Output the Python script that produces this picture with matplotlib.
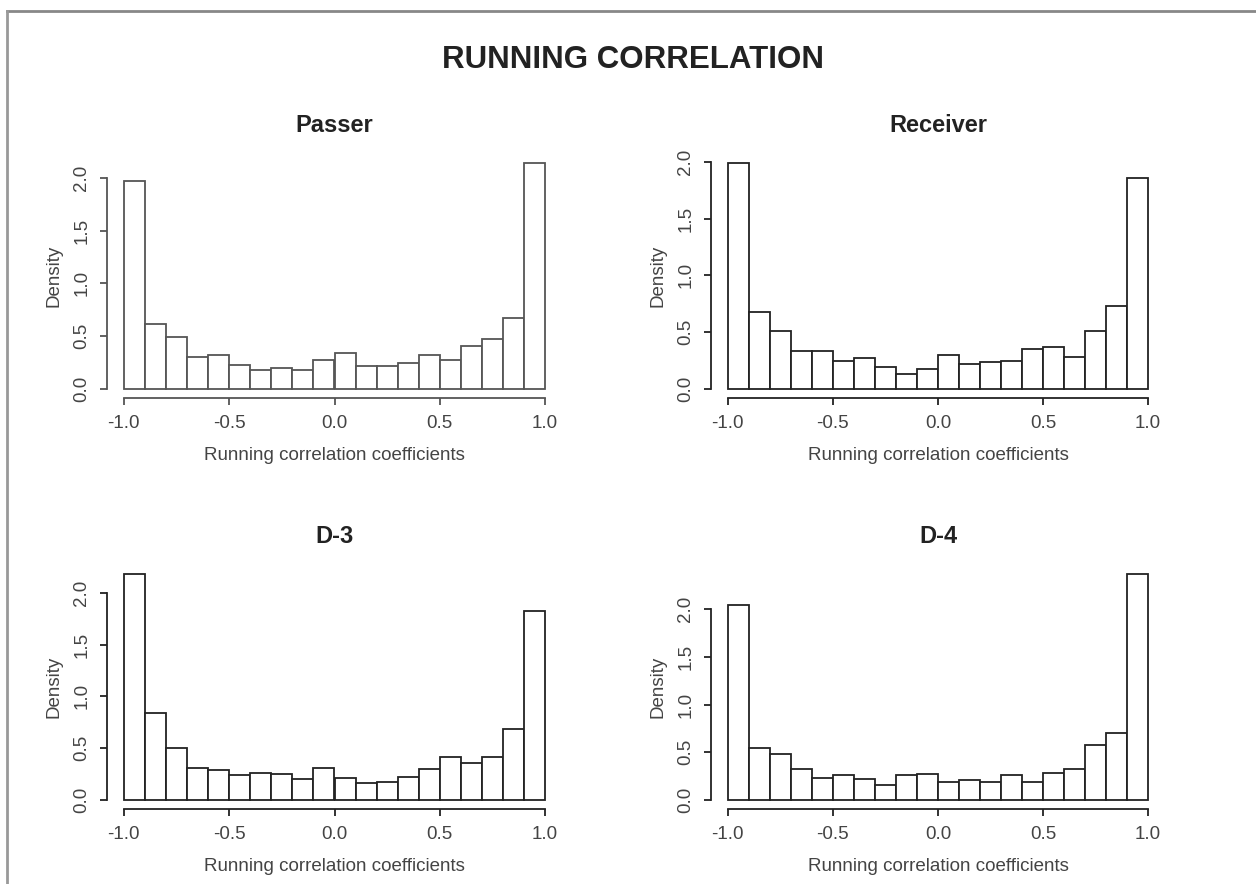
import numpy as np
import matplotlib
matplotlib.use("Agg")
import matplotlib.pyplot as plt
from matplotlib.lines import Line2D

plt.rcParams['font.family'] = ['Liberation Sans', 'DejaVu Sans']

# bin edges of the histograms (20 bins of width 0.1)
edges = np.round(np.arange(-1.0, 1.0001, 0.1), 2)

passer = [1.97, 0.62, 0.49, 0.30, 0.32, 0.23, 0.18, 0.20, 0.18, 0.27,
          0.34, 0.22, 0.22, 0.25, 0.32, 0.27, 0.41, 0.47, 0.67, 2.14]
receiver = [1.99, 0.68, 0.51, 0.33, 0.33, 0.25, 0.27, 0.19, 0.13, 0.18,
            0.30, 0.22, 0.24, 0.25, 0.35, 0.37, 0.28, 0.51, 0.73, 1.86]
d3 = [2.18, 0.84, 0.50, 0.31, 0.29, 0.24, 0.26, 0.25, 0.20, 0.31,
      0.21, 0.16, 0.17, 0.22, 0.30, 0.41, 0.36, 0.41, 0.68, 1.82]
d4 = [2.04, 0.54, 0.48, 0.32, 0.23, 0.26, 0.22, 0.16, 0.26, 0.27,
      0.19, 0.21, 0.19, 0.26, 0.19, 0.28, 0.32, 0.58, 0.70, 2.37]

titles = ["Passer", "Receiver", "D-3", "D-4"]
series = [passer, receiver, d3, d4]
edge_cols = ["#555555", "#222222", "#222222", "#222222"]

x_ticks = [-1.0, -0.5, 0.0, 0.5, 1.0]
y_ticks = [0.0, 0.5, 1.0, 1.5, 2.0]

W, H = 1256, 884
fig = plt.figure(figsize=(W / 100, H / 100), dpi=100)

# frame lines around the figure (top and left only visible)
fig.add_artist(Line2D([6.5 / W, 1], [1 - 10.5 / H, 1 - 10.5 / H], color="#888888", lw=2))
fig.add_artist(Line2D([6.5 / W, 6.5 / W], [0, 1 - 10.5 / H], color="#999999", lw=2))

fig.text(633 / W, 1 - 60 / H, "RUNNING CORRELATION", ha="center", va="center",
         fontsize=22.5, fontweight="bold", color="#222222")

# axes rectangles in pixels: left, right, top, bottom
boxes = [(107, 562, 154, 398), (711, 1165, 154, 398),
         (107, 562, 565, 809), (711, 1165, 565, 809)]

for (l, r, t, b), title, vals, ec in zip(boxes, titles, series, edge_cols):
    ax = fig.add_axes([l / W, 1 - b / H, (r - l) / W, (b - t) / H])
    ax.bar(edges[:-1], vals, width=0.1, align="edge", color="white",
           edgecolor=ec, linewidth=1.3)
    ymax = max(vals)
    ax.set_xlim(-1.08, 1.08)
    ax.set_ylim(-0.04 * ymax, 1.04 * ymax)
    for s in ["top", "right"]:
        ax.spines[s].set_visible(False)
    ax.spines["left"].set_bounds(0, 2.0)
    ax.spines["bottom"].set_bounds(-1, 1)
    for s in ["left", "bottom"]:
        ax.spines[s].set_color(ec)
        ax.spines[s].set_linewidth(1.3)
    ax.set_xticks(x_ticks)
    ax.set_xticklabels(["%.1f" % v for v in x_ticks])
    ax.set_yticks(y_ticks)
    ax.set_yticklabels(["%.1f" % v for v in y_ticks], rotation=90, va="center")
    ax.tick_params(length=5, width=1.3, color=ec, labelsize=13.5,
                   labelcolor="#444444", pad=7)
    ax.set_xlabel("Running correlation coefficients", fontsize=13.5,
                  color="#444444", labelpad=11)
    ax.set_ylabel("Density", fontsize=13.5, color="#444444", labelpad=8)
    ax.set_title(title, fontsize=17, fontweight="bold", color="#222222", pad=16)

fig.savefig("out.png", dpi=100, facecolor="white")
